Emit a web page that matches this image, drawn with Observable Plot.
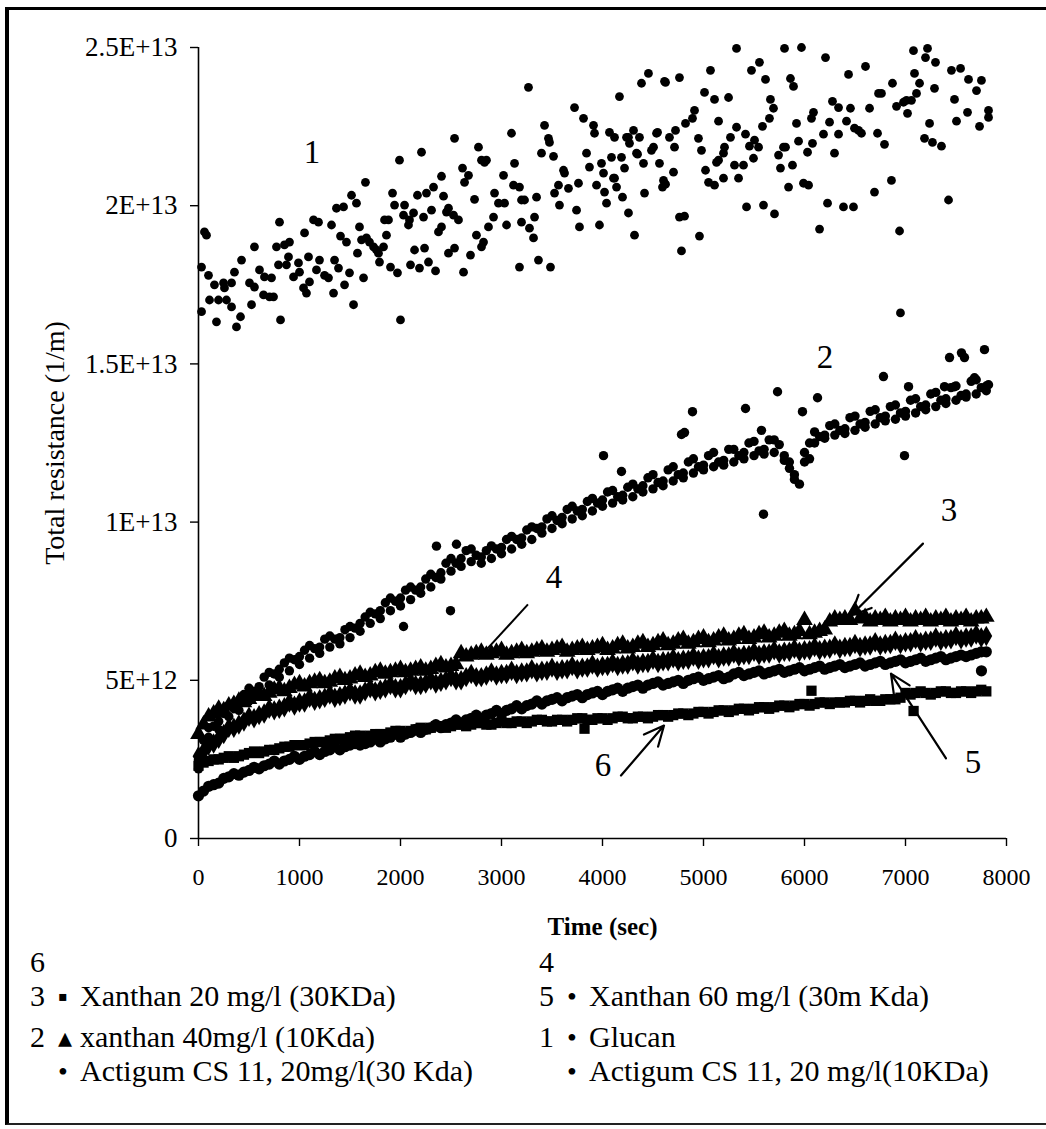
<!DOCTYPE html>
<html>
<head>
<meta charset="utf-8">
<script src="https://cdn.jsdelivr.net/npm/d3@7"></script>
<script src="https://cdn.jsdelivr.net/npm/@observablehq/plot@0.6"></script>
<style>
  html, body { margin: 0; padding: 0; background: #fff; }
  body { width: 1046px; height: 1129px; position: relative; overflow: hidden;
         font-family: "Liberation Serif", "Times New Roman", serif; color: #000; }
  #chart { position: absolute; left: 0; top: 0; }
  #frame { position: absolute; left: 5px; top: 7px; width: 1041px; height: 1118px;
           border-top: 3px solid #000; border-left: 4px solid #000; border-bottom: 2px solid #222;
           box-sizing: border-box; pointer-events: none; }
  .lg { position: absolute; font-size: 30px; line-height: 30px; white-space: nowrap; }
</style>
</head>
<body>
<div id="chart"></div>
<div id="frame"></div>
<div id="legend"></div>
<script>
// ---------- axes ----------
const xTicks = [0, 1000, 2000, 3000, 4000, 5000, 6000, 7000, 8000];
const yTicks = [0, 5e12, 1e13, 1.5e13, 2e13, 2.5e13];
const yTickLabels = ["0", "5E+12", "1E+13", "1.5E+13", "2E+13", "2.5E+13"];

// ---------- sampling times (sec) ----------
const T = [0,100,200,300,400,500,600,700,800,900,
  1000,1100,1200,1300,1400,1500,1600,1700,1800,1900,
  2000,2100,2200,2300,2400,2500,2600,2700,2800,2900,
  3000,3100,3200,3300,3400,3500,3600,3700,3800,3900,
  4000,4100,4200,4300,4400,4500,4600,4700,4800,4900,
  5000,5100,5200,5300,5400,5500,5600,5700,5800,5900,
  6000,6100,6200,6300,6400,6500,6600,6700,6800,6900,
  7000,7100,7200,7300,7400,7500,7600,7700,7800];
const T50 = [50,150,250,350,450,550,650,750,850,950,
  1050,1150,1250,1350,1450,1550,1650,1750,1850,1950,
  2050,2150,2250,2350,2450,2550,2650,2750,2850,2950,
  3050,3150,3250,3350,3450,3550,3650,3750,3850,3950,
  4050,4150,4250,4350,4450,4550,4650,4750,4850,4950,
  5050,5150,5250,5350,5450,5550,5650,5750,5850,5950,
  6050,6150,6250,6350,6450,6550,6650,6750,6850,6950,
  7050,7150,7250,7350,7450,7550,7650,7750];

// ---------- curve 1 (Glucan), [time, resistance x1e12] ----------
const curve1 = [
[30,18.06],[30,16.65],[59,19.17],[79,19.07],[99,17.8],[109,17.02],[158,17.5],[178,16.33],[198,17.02],[248,17.56],
[257,17.4],[277,17.02],[327,17.56],[327,16.8],[356,17.9],[376,16.17],[416,16.49],[426,18.28],[505,17.56],[525,16.87],
[554,17.43],[554,18.7],[604,17.97],[644,17.18],[653,17.75],[703,17.12],[723,17.72],[743,17.12],[772,18.7],[792,18.13],
[802,19.48],[812,16.39],[851,18.76],[871,18.13],[891,18.38],[901,18.85],[941,17.75],[990,18.19],[1000,17.9],[1040,17.4],
[1050,19.14],[1069,17.24],[1089,18.38],[1099,17.59],[1139,19.55],[1168,17.97],[1188,19.48],[1198,18.28],[1248,17.8],[1287,17.72],
[1317,19.39],[1337,17.24],[1347,18.28],[1366,19.92],[1386,18.03],[1406,19.04],[1436,19.96],[1446,17.5],[1465,18.85],[1495,17.88],
[1515,20.33],[1535,16.87],[1564,20.08],[1574,18.5],[1594,19.33],[1614,18.92],[1634,17.72],[1653,20.74],[1663,18.98],[1693,18.85],
[1733,18.7],[1762,18.6],[1782,18.5],[1792,18.22],[1832,18.7],[1842,19.55],[1861,19.07],[1881,19.55],[1901,18.06],[1921,20.4],
[1941,20.02],[1970,17.88],[1990,21.44],[2000,16.39],[2030,19.7],[2040,20.02],[2079,19.39],[2089,19.55],[2099,18.13],[2129,19.77],
[2139,18.6],[2168,20.33],[2188,18.03],[2208,21.69],[2228,19.64],[2238,18.66],[2257,20.4],[2277,18.22],[2307,19.86],[2327,20.59],
[2347,17.94],[2376,19.17],[2406,20.93],[2406,19.33],[2426,20.3],[2455,19.8],[2475,19.92],[2475,18.5],[2525,19.7],[2535,18.66],
[2535,22.13],[2574,19.55],[2614,21.19],[2624,17.9],[2634,20.74],[2673,20.96],[2693,18.44],[2733,20.2],[2752,19.07],[2772,21.85],
[2802,18.7],[2802,21.44],[2822,18.85],[2832,21.37],[2851,21.44],[2871,19.33],[2921,19.64],[2931,20.4],[2970,20.08],[3020,20.96],
[3030,20.08],[3050,19.39],[3099,22.29],[3119,20.65],[3129,21.34],[3178,20.59],[3178,18.06],[3198,19.48],[3198,20.18],[3228,20.18],
[3267,23.74],[3277,19.29],[3317,18.98],[3327,19.64],[3347,20.27],[3366,18.28],[3396,21.66],[3426,22.54],[3465,22.13],[3475,22.0],
[3485,18.06],[3515,21.56],[3525,20.4],[3564,20.65],[3574,20.02],[3614,21.12],[3624,21.03],[3663,20.55],[3723,23.1],[3743,19.86],
[3762,20.71],[3772,19.33],[3812,22.76],[3842,21.66],[3871,21.22],[3911,22.54],[3921,22.29],[3941,20.65],[3970,19.39],[3990,21.34],
[4010,21.03],[4020,20.43],[4040,20.08],[4069,22.32],[4089,21.53],[4109,20.87],[4119,22.16],[4119,20.87],[4139,20.59],[4168,23.45],
[4188,21.53],[4198,20.27],[4218,21.19],[4238,22.16],[4257,22.16],[4257,19.77],[4267,21.97],[4307,22.38],[4317,19.07],[4337,21.66],
[4347,21.63],[4366,22.16],[4386,23.87],[4406,21.34],[4416,20.4],[4455,24.18],[4485,21.75],[4505,21.85],[4535,22.29],[4545,22.32],
[4564,21.34],[4594,20.59],[4604,20.8],[4614,23.93],[4624,20.68],[4624,23.9],[4663,22.16],[4703,21.06],[4713,21.85],[4723,22.38],
[4762,24.05],[4762,19.64],[4782,18.57],[4812,19.67],[4822,22.6],[4891,22.76],[4911,23.01],[4950,22.13],[4960,19.04],[4980,21.75],
[5010,23.58],[5020,21.12],[5050,20.74],[5069,24.28],[5109,23.36],[5109,20.65],[5129,21.37],[5149,21.44],[5149,22.67],[5198,21.66],
[5198,20.87],[5208,21.85],[5248,23.42],[5267,22.16],[5307,21.28],[5327,24.97],[5327,22.48],[5347,20.87],[5396,21.28],[5416,22.26],
[5426,19.96],[5455,21.88],[5475,24.28],[5495,21.5],[5505,22.07],[5545,21.85],[5554,24.53],[5584,22.51],[5594,20.02],[5614,23.99],
[5653,22.76],[5663,23.36],[5693,23.08],[5703,19.74],[5743,21.6],[5762,21.19],[5792,21.85],[5802,24.97],[5812,21.85],[5842,20.59],
[5861,24.02],[5881,21.28],[5891,23.77],[5921,22.6],[5941,22.04],[5970,25.0],[5990,20.71],[6030,21.69],[6040,20.65],[6069,22.76],
[6079,21.97],[6089,22.95],[6149,19.26],[6188,22.26],[6208,24.68],[6228,20.08],[6248,22.64],[6277,23.3],[6297,21.66],[6337,23.1],
[6337,22.26],[6386,19.96],[6416,22.67],[6436,24.15],[6455,23.08],[6485,19.96],[6495,22.45],[6535,22.38],[6564,22.29],[6604,24.4],
[6644,23.08],[6693,20.43],[6723,22.29],[6733,23.55],[6762,23.55],[6792,21.94],[6861,20.8],[6871,23.87],[6911,23.14],[6941,19.2],
[6950,16.61],[6980,23.27],[7010,23.33],[7020,22.92],[7059,23.33],[7079,24.9],[7089,24.18],[7109,23.55],[7139,23.87],[7188,22.13],
[7198,24.68],[7218,24.97],[7238,22.6],[7267,22.0],[7287,23.71],[7297,24.53],[7356,21.88],[7426,20.18],[7455,24.28],[7485,23.36],
[7505,22.67],[7545,24.34],[7614,22.95],[7624,23.99],[7703,23.64],[7733,22.51],[7752,23.96],[7822,23.01],[7822,22.79]
];

// ---------- curve 2 (circles, rising), x1e12 ----------
const curve2a = [2.5,3.5,3.7,4.2,4.3,4.75,4.8,5.25,5.35,5.7,
  5.75,6.1,6.05,6.4,6.35,6.7,6.8,7.15,7.2,7.6,
  7.6,7.95,7.95,8.35,8.4,8.85,8.85,9.15,8.9,9.25,
  9.2,9.55,9.5,9.85,9.85,10.2,10.15,10.5,10.4,10.75,
  10.7,11.0,10.85,11.2,11.15,11.5,11.3,11.75,11.55,12.0,
  11.8,12.2,11.95,12.3,12.2,12.55,12.3,12.6,12.1,11.5,
  12.2,12.85,12.75,13.1,12.95,13.35,13.15,13.55,13.35,13.7,
  13.5,13.9,13.7,14.1,13.9,14.3,14.05,14.5,14.3];
const curve2b = [3.1,3.55,3.95,4.1,4.55,4.65,5.1,5.2,5.55,5.65,
  5.95,6.0,6.3,6.3,6.6,6.65,7.0,7.1,7.45,7.5,
  7.85,7.85,8.2,8.25,8.7,8.7,9.1,8.95,9.1,9.15,
  9.45,9.45,9.75,9.8,10.1,10.05,10.4,10.35,10.65,10.6,
  10.95,10.8,11.1,11.05,11.4,11.25,11.65,11.5,11.9,11.75,
  12.1,11.9,12.3,12.1,12.5,12.25,12.6,12.45,11.9,11.2,
  12.5,12.7,13.05,12.9,13.3,13.1,13.5,13.3,13.65,13.45,
  13.85,13.65,14.05,13.85,14.25,14.0,14.45,14.25];
const curve2c = [2.2,3.2,3.45,3.85,4.05,4.35,4.55,4.85,5.1,5.3,
  5.5,5.7,5.85,6.05,6.15,6.35,6.55,6.8,6.95,7.2,
  7.35,7.55,7.75,7.95,8.2,8.45,8.6,8.75,8.7,8.85,
  9.0,9.15,9.3,9.45,9.65,9.8,9.95,10.1,10.2,10.35,
  10.5,10.6,10.7,10.8,10.95,11.05,11.15,11.3,11.4,11.55,
  11.65,11.75,11.8,11.9,12.0,12.1,12.15,12.2,11.95,11.35,
  11.9,12.5,12.65,12.75,12.8,12.9,13.0,13.1,13.2,13.25,
  13.35,13.45,13.55,13.65,13.75,13.85,13.95,14.05,14.15];
const curve2out = [[2030,6.7],[2356,9.24],[2495,7.2],[2554,9.3],[4010,12.1],[4188,11.6],[4782,12.77],[4812,12.83],
  [4891,13.49],[5416,13.59],[5574,12.9],[5594,10.25],[5733,14.12],[5851,11.7],[5980,13.49],[6050,12.0],[6129,13.93],
  [6782,14.6],[6990,12.1],[7030,14.28],[7386,14.28],[7436,15.2],[7485,14.28],[7554,15.35],[7584,15.2],[7683,14.56],
  [7782,15.45],[7822,14.34]];

// ---------- triangles band ----------
const triBand = [3.3,3.85,4.1,4.2,4.35,4.4,4.55,4.6,4.75,4.75,
  4.9,4.9,5.0,4.95,5.1,5.05,5.2,5.15,5.3,5.25,
  5.35,5.3,5.4,5.35,5.5,5.45,5.85,5.8,5.9,5.85,
  5.95,5.85,5.95,5.9,6.0,5.95,6.05,5.95,6.05,6.0,
  6.1,6.0,6.15,6.05,6.2,6.1,6.25,6.15,6.3,6.2,
  6.35,6.25,6.4,6.3,6.45,6.35,6.5,6.4,6.55,6.45,
  6.9,6.5,6.6,6.95,6.95,7.2,7.0,6.95,7.0,6.95,
  7.0,6.95,7.0,6.95,7.0,6.95,7.0,6.95,7.0];
const triBand50 = [3.6,3.95,4.05,4.25,4.3,4.5,4.5,4.7,4.65,4.85,
  4.8,4.95,4.9,5.05,5.0,5.15,5.1,5.25,5.2,5.3,
  5.25,5.35,5.3,5.45,5.4,5.5,5.75,5.85,5.8,5.9,
  5.8,5.9,5.85,5.95,5.9,6.0,5.9,6.0,5.95,6.05,
  5.95,6.1,6.0,6.15,6.05,6.2,6.1,6.25,6.15,6.3,
  6.2,6.35,6.25,6.4,6.3,6.45,6.35,6.5,6.4,6.55,
  6.45,6.55,6.85,6.9,6.9,6.95,6.85,6.9,6.85,6.9,
  6.85,6.9,6.85,6.9,6.85,6.9,6.85,6.95];

// ---------- diamonds band ----------
const diaBand = [2.6,2.95,3.15,3.5,3.6,3.85,3.9,4.1,4.1,4.3,
  4.3,4.45,4.4,4.55,4.5,4.65,4.55,4.75,4.7,4.85,
  4.75,4.95,4.85,5.0,4.95,5.1,5.0,5.2,5.1,5.25,
  5.2,5.3,5.25,5.35,5.3,5.4,5.35,5.45,5.4,5.5,
  5.45,5.55,5.5,5.6,5.55,5.65,5.6,5.7,5.65,5.75,
  5.7,5.8,5.75,5.85,5.8,5.9,5.85,5.95,5.9,6.0,
  5.95,6.05,6.0,6.1,6.05,6.15,6.1,6.2,6.15,6.25,
  6.2,6.3,6.25,6.35,6.3,6.4,6.35,6.45,6.4];
const diaBand50 = [2.75,3.0,3.3,3.5,3.7,3.8,3.95,4.05,4.15,4.2,
  4.3,4.35,4.45,4.45,4.55,4.55,4.65,4.65,4.75,4.75,
  4.85,4.85,4.9,4.9,5.0,5.0,5.1,5.1,5.15,5.15,
  5.2,5.2,5.25,5.25,5.3,5.3,5.35,5.35,5.4,5.4,
  5.45,5.45,5.5,5.5,5.55,5.55,5.6,5.6,5.65,5.65,
  5.7,5.7,5.75,5.75,5.8,5.8,5.85,5.85,5.9,5.9,
  5.95,5.95,6.0,6.0,6.05,6.05,6.1,6.1,6.15,6.15,
  6.2,6.2,6.25,6.25,6.3,6.3,6.35,6.35];

// ---------- lower circles band ----------
const cirBand = [1.35,1.65,1.75,1.95,2.0,2.15,2.2,2.35,2.35,2.5,
  2.5,2.65,2.65,2.8,2.8,2.95,2.95,3.05,3.05,3.2,
  3.2,3.35,3.35,3.5,3.5,3.65,3.65,3.8,3.8,3.95,
  3.95,4.1,4.1,4.25,4.25,4.4,4.35,4.5,4.45,4.6,
  4.55,4.7,4.65,4.8,4.75,4.9,4.85,4.95,4.9,5.05,
  5.0,5.1,5.05,5.2,5.15,5.25,5.2,5.3,5.25,5.35,
  5.3,5.4,5.35,5.45,5.4,5.5,5.45,5.55,5.5,5.6,
  5.55,5.65,5.6,5.7,5.65,5.75,5.75,5.85,5.9];
const cirBand50 = [1.5,1.7,1.9,2.05,2.1,2.25,2.3,2.45,2.45,2.6,
  2.6,2.75,2.75,2.9,2.9,3.0,3.0,3.15,3.15,3.3,
  3.3,3.45,3.45,3.6,3.6,3.75,3.75,3.9,3.9,4.05,
  4.05,4.2,4.2,4.35,4.35,4.45,4.45,4.55,4.55,4.65,
  4.65,4.75,4.75,4.85,4.85,4.95,4.9,5.0,5.0,5.1,
  5.05,5.15,5.1,5.25,5.2,5.3,5.25,5.35,5.3,5.4,
  5.35,5.45,5.4,5.5,5.45,5.55,5.5,5.6,5.55,5.65,
  5.6,5.7,5.65,5.75,5.7,5.8,5.8,5.9];
const cirOut = [[7752,5.3]];

// ---------- squares band ----------
const sqBand = [2.3,2.45,2.5,2.6,2.6,2.7,2.7,2.8,2.85,2.9,
  2.95,3.0,3.05,3.1,3.15,3.2,3.25,3.25,3.3,3.35,
  3.4,3.4,3.5,3.5,3.55,3.55,3.6,3.6,3.65,3.6,
  3.7,3.65,3.7,3.7,3.75,3.7,3.75,3.75,3.8,3.75,
  3.8,3.8,3.85,3.8,3.85,3.85,3.9,3.9,3.95,3.95,
  4.0,4.0,4.05,4.05,4.1,4.1,4.15,4.15,4.2,4.2,
  4.25,4.25,4.3,4.3,4.3,4.35,4.35,4.35,4.4,4.4,
  4.6,4.6,4.6,4.6,4.65,4.6,4.65,4.65,4.65];
const sqBand50 = [2.4,2.5,2.55,2.55,2.65,2.75,2.75,2.8,2.9,2.95,
  2.95,3.05,3.05,3.15,3.15,3.25,3.2,3.3,3.3,3.4,
  3.35,3.45,3.45,3.55,3.5,3.6,3.55,3.65,3.6,3.65,
  3.65,3.7,3.65,3.75,3.7,3.75,3.7,3.8,3.75,3.8,
  3.75,3.85,3.8,3.85,3.8,3.9,3.85,3.95,3.9,4.0,
  3.95,4.05,4.0,4.1,4.05,4.15,4.1,4.2,4.15,4.25,
  4.2,4.3,4.25,4.3,4.35,4.3,4.4,4.35,4.4,4.45,
  4.55,4.65,4.55,4.65,4.6,4.65,4.6,4.7];
const sqOut = [[3822,3.47],[6069,4.67],[7080,4.03]];

// ---------- annotations (data units) ----------
const curveLabels = [
  {t:1124, r:21.68, text:"1"}, {t:6203, r:15.2, text:"2"}, {t:7431, r:10.37, text:"3"},
  {t:3520, r:8.25, text:"4"}, {t:7668, r:2.4, text:"5"}, {t:4005, r:2.31, text:"6"}];
const pointerLines = [{t1:3262, r1:7.4, t2:2817, r2:5.85}];
const pointerArrows = [
  {t1:7173, r1:9.32, t2:6460, r2:7.05},
  {t1:7401, r1:2.53, t2:6856, r2:5.21},
  {t1:4183, r1:1.99, t2:4609, r2:3.57}];

// ---------- legend ----------
const legendCol1 = [["6","",""],["3","\u25AA","Xanthan 20 mg/l (30KDa)"],["2","\u25B4","xanthan 40mg/l (10Kda)"],["","\u2022","Actigum CS 11, 20mg/l(30 Kda)"]];
const legendCol2 = [["4","",""],["5","\u2022","Xanthan 60 mg/l (30m Kda)"],["1","\u2022","Glucan"],["","\u2022","Actigum CS 11, 20 mg/l(10KDa)"]];

// ---------- build ----------
const E = 1e12;
const fromBand = (t, v) => t.map((x, i) => ({t: x, r: v[i] * E}));
const fromPairs = p => p.map(([x, v]) => ({t: x, r: v * E}));

const d1 = fromPairs(curve1);
const d2 = fromBand(T, curve2a).concat(fromBand(T50, curve2b), fromBand(T, curve2c), fromPairs(curve2out));
const dTri = fromBand(T, triBand).concat(fromBand(T50, triBand50));
const dDia = fromBand(T, diaBand).concat(fromBand(T50, diaBand50));
const dCir = fromBand(T, cirBand).concat(fromBand(T50, cirBand50), fromPairs(cirOut));
const dSq = fromBand(T, sqBand).concat(fromBand(T50, sqBand50), fromPairs(sqOut));
const lab = curveLabels.map(d => ({...d, r: d.r * E}));
const lines = pointerLines.map(d => ({...d, r1: d.r1 * E, r2: d.r2 * E}));
const arrows = pointerArrows.map(d => ({...d, r1: d.r1 * E, r2: d.r2 * E}));

const chart = Plot.plot({
  width: 1046, height: 960,
  marginLeft: 198, marginRight: 40, marginTop: 47, marginBottom: 122,
  x: {domain: [0, 8000]},
  y: {domain: [0, 2.5e13]},
  style: {fontFamily: '"Liberation Serif","Times New Roman",serif', background: "transparent", color: "#000"},
  marks: [
    Plot.axisX({ticks: xTicks, tickSize: 8, tickPadding: 21, fontSize: 24, label: null,
                tickFormat: d => String(d), strokeWidth: 1.4}),
    Plot.axisY({ticks: yTicks, tickSize: 8, tickPadding: 13, fontSize: 27, label: null,
                tickFormat: d => yTickLabels[yTicks.indexOf(d)], strokeWidth: 1.4}),
    Plot.ruleY([0], {stroke: "#000", strokeWidth: 1.6}),
    Plot.ruleX([0], {stroke: "#000", strokeWidth: 1.6}),
    Plot.dot(dSq, {x: "t", y: "r", symbol: "square", r: 5.8, fill: "#000"}),
    Plot.dot(dCir, {x: "t", y: "r", r: 5.6, fill: "#000"}),
    Plot.dot(dDia, {x: "t", y: "r", symbol: "diamond", r: 6.2, fill: "#000"}),
    Plot.dot(dTri, {x: "t", y: "r", symbol: "triangle", r: 6.2, fill: "#000"}),
    Plot.dot(d2, {x: "t", y: "r", r: 4.7, fill: "#000"}),
    Plot.dot(d1, {x: "t", y: "r", r: 4.4, fill: "#000"}),
    Plot.text(lab, {x: "t", y: "r", text: "text", fontSize: 33, fill: "#000"}),
    Plot.link(lines, {x1: "t1", y1: "r1", x2: "t2", y2: "r2", stroke: "#000", strokeWidth: 2}),
    Plot.arrow(arrows, {x1: "t1", y1: "r1", x2: "t2", y2: "r2", stroke: "#000", strokeWidth: 2.2,
                        headLength: 15, headAngle: 50}),
    Plot.text(["Total resistance (1/m)"], {text: d => d, frameAnchor: "left", dx: -143, rotate: -90,
                                            textAnchor: "middle", lineAnchor: "middle",
                                            fontSize: 28, fill: "#000"}),
    Plot.text(["Time (sec)"], {text: d => d, frameAnchor: "bottom", dy: 88, textAnchor: "middle",
                               lineAnchor: "middle", fontSize: 25, fontWeight: "bold", fill: "#000"})
  ]
});
document.getElementById("chart").appendChild(chart);

// legend (HTML, below the SVG)
const colX = [30, 539];
const rowTop = [947, 981, 1022, 1056];
const legend = document.getElementById("legend");
[legendCol1, legendCol2].forEach((col, ci) => {
  col.forEach(([num, sym, label], ri) => {
    const add = (txt, dx, extra) => {
      if (!txt) return;
      const el = document.createElement("div");
      el.className = "lg";
      el.textContent = txt;
      el.style.left = (colX[ci] + dx) + "px";
      el.style.top = rowTop[ri] + "px";
      if (extra) Object.assign(el.style, extra);
      legend.appendChild(el);
    };
    add(num, 0);
    add(sym, 28, {fontSize: "28px", top: (rowTop[ri] + 1) + "px"});
    add(label, 50);
  });
});
</script>
</body>
</html>
